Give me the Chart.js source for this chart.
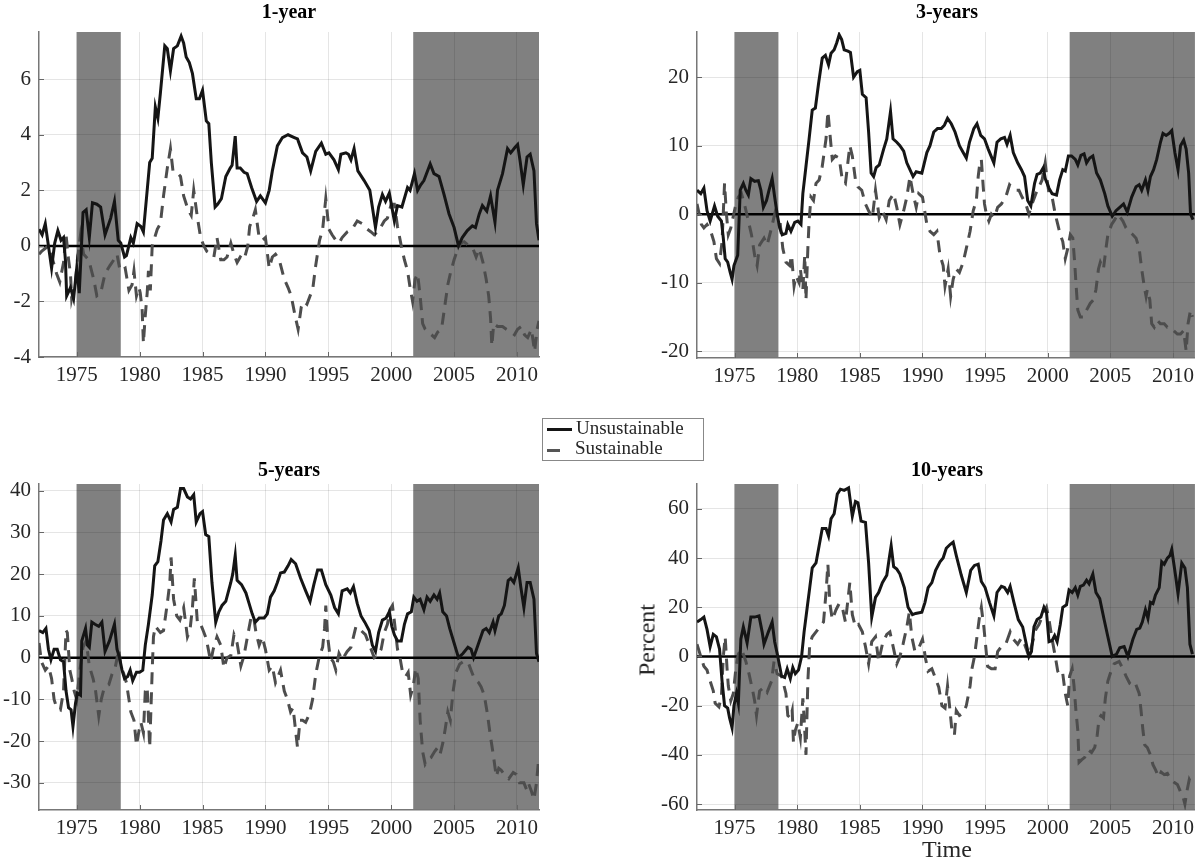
<!DOCTYPE html>
<html>
<head>
<meta charset="utf-8">
<script src="https://cdn.jsdelivr.net/npm/chart.js@4"></script>
<style>
  body { margin: 0; width: 1197px; height: 862px; overflow: hidden; background: #fff; position: relative; font-family: "Liberation Serif", serif; }
  canvas { position: absolute; }
  .title { position: absolute; font-weight: bold; font-size: 20px; color: #000; transform: translateX(-50%); white-space: nowrap; }
  .label { position: absolute; font-size: 24px; color: #262626; white-space: nowrap; }
  #legend { position: absolute; left: 542px; top: 418px; width: 160px; height: 41px; border: 1px solid #888; background: #fff; font-size: 19px; color: #262626; }
  #legend div { position: absolute; }
</style>
</head>
<body>
<canvas id="c1" width="560" height="400" style="left:0;top:0"></canvas>
<canvas id="c2" width="560" height="400" style="left:640px;top:0"></canvas>
<canvas id="c3" width="560" height="407" style="left:0;top:455px"></canvas>
<canvas id="c4" width="560" height="407" style="left:640px;top:455px"></canvas>

<div class="title" style="left:289px;top:0px">1-year</div>
<div class="title" style="left:947px;top:0px">3-years</div>
<div class="title" style="left:289px;top:458px">5-years</div>
<div class="title" style="left:947px;top:458px">10-years</div>

<div class="label" style="left:647px;top:640px;transform:translate(-50%,-50%) rotate(-90deg)">Percent</div>
<div class="label" style="left:947px;top:836px;transform:translateX(-50%)">Time</div>

<div id="legend">
  <div style="left:4px;top:9px;width:25px;height:3px;background:#151515"></div>
  <div style="left:33px;top:-2px;line-height:22px">Unsustainable</div>
  <div style="left:4px;top:30px;width:13px;height:3px;background:#555"></div>
  <div style="left:32px;top:18px;line-height:22px">Sustainable</div>
</div>

<script>
// shaded periods [start, end]
var shaded = [[1975, 1978.5], [2001.75, 2011.75]];
var xMin = 1972, xMax = 2011.75;

// 1-year horizon: [year, percent]
var oneYearUnsust = [
  [1972.0,0.6],[1972.25,0.4],[1972.5,0.8],[1972.75,0.0],[1973.0,-0.8],[1973.25,0.1],[1973.5,0.55],[1973.75,0.2],
  [1973.95,0.3],[1974.1,-0.5],[1974.2,-1.8],[1974.5,-1.5],[1974.75,-1.9],[1975.0,-0.8],[1975.2,-1.7],[1975.5,1.2],
  [1975.75,1.3],[1976.0,0.3],[1976.25,1.55],[1976.6,1.5],[1976.9,1.4],[1977.25,0.4],[1977.7,1.0],[1978.0,1.6],
  [1978.3,0.2],[1978.5,0.1],[1978.8,-0.4],[1978.95,-0.35],[1979.3,0.3],[1979.5,0.1],[1979.8,0.8],[1980.1,0.7],
  [1980.3,0.5],[1980.6,2.0],[1980.8,3.0],[1981.0,3.15],[1981.25,5.0],[1981.45,4.6],[1981.65,5.5],[1982.0,7.2],
  [1982.2,7.1],[1982.45,6.3],[1982.7,7.1],[1983.0,7.2],[1983.3,7.55],[1983.5,7.3],[1983.7,6.8],[1983.95,6.6],
  [1984.2,6.2],[1984.5,5.3],[1984.75,5.3],[1985.0,5.6],[1985.3,4.5],[1985.5,4.4],[1985.7,3.0],[1986.0,1.4],
  [1986.2,1.5],[1986.5,1.7],[1986.85,2.5],[1987.2,2.8],[1987.35,2.9],[1987.6,3.95],[1987.75,2.8],[1988.0,2.8],
  [1988.3,2.65],[1988.55,2.6],[1988.9,2.1],[1989.3,1.6],[1989.6,1.8],[1990.0,1.55],[1990.3,2.0],[1990.55,2.7],
  [1990.95,3.6],[1991.35,3.9],[1991.8,4.0],[1992.3,3.9],[1992.55,3.85],[1992.95,3.35],[1993.3,3.2],[1993.6,2.7],
  [1994.0,3.4],[1994.45,3.7],[1994.8,3.3],[1995.05,3.35],[1995.45,3.1],[1995.8,2.75],[1996.0,3.3],[1996.4,3.35],
  [1996.6,3.3],[1996.8,3.1],[1997.05,3.5],[1997.35,2.7],[1997.85,2.35],[1998.3,2.0],[1998.75,0.66],[1999.0,1.4],
  [1999.3,1.85],[1999.55,1.6],[1999.85,1.9],[2000.25,0.9],[2000.5,1.45],[2000.85,1.4],[2001.3,2.1],[2001.5,2.0],
  [2001.85,2.6],[2002.1,2.0],[2002.35,2.2],[2002.6,2.35],[2003.1,2.95],[2003.4,2.6],[2003.8,2.5],[2004.2,1.85],
  [2004.6,1.15],[2005.0,0.66],[2005.35,0.0],[2005.65,0.3],[2006.05,0.55],[2006.45,0.72],[2006.7,0.66],[2007.0,1.15],
  [2007.25,1.45],[2007.6,1.25],[2007.9,1.8],[2008.25,0.85],[2008.45,2.0],[2008.85,2.6],[2009.25,3.5],[2009.5,3.35],
  [2009.85,3.55],[2010.05,3.65],[2010.25,3.05],[2010.5,2.2],[2010.8,3.2],[2011.05,3.3],[2011.35,2.7],[2011.55,0.8],
  [2011.75,0.2]
];
var oneYearSust = [
  [1972.0,-0.3],[1972.2,-0.2],[1972.75,0.0],[1973.15,-0.6],[1973.4,-1.0],[1973.65,-1.3],[1973.95,-0.6],[1974.15,0.4],
  [1974.35,-0.5],[1974.5,-1.0],[1974.6,-1.9],[1974.9,-1.3],[1975.05,-0.5],[1975.3,0.4],[1975.55,-0.3],[1975.95,-0.5],
  [1976.35,-1.2],[1976.6,-1.8],[1976.9,-1.7],[1977.25,-1.0],[1977.65,-0.7],[1977.95,-0.5],[1978.2,-0.3],[1978.45,-0.9],
  [1978.85,-0.8],[1979.15,-1.6],[1979.4,-1.4],[1979.55,-0.9],[1979.75,-1.8],[1979.95,-1.5],[1980.05,-1.7],[1980.2,-2.3],
  [1980.3,-3.5],[1980.45,-2.5],[1980.6,-1.7],[1980.7,-0.9],[1980.85,-1.6],[1981.0,0.0],[1981.2,0.3],[1981.4,0.6],
  [1981.65,0.8],[1981.9,1.8],[1982.2,2.8],[1982.45,3.5],[1982.65,2.7],[1982.85,2.7],[1983.25,2.5],[1983.5,1.8],
  [1983.85,1.3],[1984.1,1.1],[1984.3,2.0],[1984.45,1.5],[1984.6,1.0],[1984.85,0.3],[1985.1,0.0],[1985.35,-0.2],
  [1985.65,-0.3],[1985.9,-0.4],[1986.15,0.3],[1986.45,-0.5],[1986.7,-0.5],[1986.95,-0.4],[1987.25,0.1],[1987.5,-0.3],
  [1987.75,-0.6],[1988.0,-0.4],[1988.3,-0.5],[1988.6,0.0],[1988.75,0.7],[1989.0,1.0],[1989.2,1.3],[1989.5,0.3],
  [1989.75,0.2],[1990.0,0.3],[1990.3,-0.8],[1990.55,-0.4],[1990.8,-0.3],[1991.1,-0.5],[1991.5,-1.2],[1991.8,-1.5],
  [1992.05,-1.8],[1992.35,-2.5],[1992.6,-3.0],[1992.85,-2.2],[1993.05,-2.0],[1993.3,-2.1],[1993.55,-1.8],[1993.75,-1.6],
  [1994.0,-0.7],[1994.3,0.2],[1994.55,0.6],[1994.8,1.7],[1995.05,0.6],[1995.3,0.4],[1995.6,0.2],[1995.85,0.1],
  [1996.1,0.3],[1996.5,0.5],[1996.9,0.6],[1997.3,0.9],[1997.7,0.8],[1998.1,0.6],[1998.4,0.5],[1998.65,0.4],
  [1998.9,0.5],[1999.2,0.7],[1999.45,0.9],[1999.7,1.0],[2000.0,1.5],[2000.25,1.5],[2000.5,0.7],[2000.8,0.0],
  [2001.05,-0.5],[2001.3,-0.9],[2001.5,-1.5],[2001.7,-2.0],[2001.9,-1.2],[2002.1,-1.0],[2002.3,-1.8],[2002.5,-2.8],
  [2002.7,-3.0],[2002.9,-3.1],[2003.2,-3.2],[2003.45,-3.3],[2003.7,-3.1],[2004.0,-3.0],[2004.25,-2.2],[2004.5,-1.4],
  [2004.75,-0.9],[2005.0,-0.5],[2005.3,-0.1],[2005.55,0.1],[2005.8,0.15],[2006.2,0.0],[2006.5,-0.1],[2006.75,-0.4],
  [2007.0,-0.1],[2007.3,-0.6],[2007.55,-1.2],[2007.75,-1.8],[2007.9,-2.6],[2008.0,-3.6],[2008.15,-2.8],[2008.45,-2.9],
  [2008.85,-2.9],[2009.15,-3.0],[2009.5,-3.1],[2009.8,-3.2],[2010.05,-3.0],[2010.35,-2.9],[2010.6,-3.2],[2010.85,-3.3],
  [2011.15,-3.0],[2011.4,-3.8],[2011.6,-3.0],[2011.75,-2.7]
];

// 3-year horizon
var threeYearUnsust = [
  [1972.0,3.5],[1972.3,3.0],[1972.55,3.8],[1972.8,0.5],[1973.05,-1.0],[1973.4,1.2],[1973.65,-0.3],[1973.95,-1.0],
  [1974.1,-3.5],[1974.25,-6.5],[1974.45,-7.0],[1974.65,-8.5],[1974.8,-9.5],[1974.95,-7.5],[1975.25,-6.0],[1975.45,3.5],
  [1975.7,4.5],[1975.9,3.5],[1976.1,2.8],[1976.3,5.2],[1976.6,4.8],[1976.9,4.9],[1977.1,3.5],[1977.3,1.0],
  [1977.55,2.0],[1977.75,3.5],[1978.0,5.2],[1978.2,2.5],[1978.4,0.0],[1978.6,-2.0],[1978.8,-3.0],[1979.1,-2.8],
  [1979.25,-1.5],[1979.5,-2.5],[1979.8,-1.2],[1980.05,-1.0],[1980.3,-1.5],[1980.45,3.0],[1980.7,7.0],[1980.95,11.0],
  [1981.2,15.2],[1981.45,15.5],[1981.7,19.0],[1982.0,22.8],[1982.25,23.2],[1982.5,21.8],[1982.7,23.5],[1982.95,24.0],
  [1983.15,25.0],[1983.35,26.2],[1983.55,25.5],[1983.75,24.0],[1984.05,23.8],[1984.25,23.6],[1984.5,20.0],[1984.8,20.8],
  [1985.0,21.0],[1985.2,17.5],[1985.5,17.0],[1985.7,12.0],[1985.9,6.0],[1986.1,5.5],[1986.3,6.8],[1986.55,7.2],
  [1986.9,9.5],[1987.15,11.0],[1987.3,13.0],[1987.45,15.0],[1987.65,11.0],[1987.95,10.5],[1988.2,10.0],[1988.5,9.2],
  [1988.75,7.5],[1989.0,6.5],[1989.25,5.5],[1989.5,6.2],[1989.95,6.0],[1990.35,9.0],[1990.6,10.0],[1990.9,12.0],
  [1991.2,12.5],[1991.5,12.5],[1991.75,13.0],[1992.0,14.0],[1992.3,13.2],[1992.6,12.0],[1992.95,10.0],[1993.25,9.0],
  [1993.5,8.2],[1993.75,10.5],[1994.1,12.5],[1994.35,13.2],[1994.65,11.5],[1994.95,11.0],[1995.25,9.5],[1995.7,7.5],
  [1995.95,10.5],[1996.25,11.0],[1996.55,11.2],[1996.75,10.2],[1997.0,11.5],[1997.25,9.0],[1997.6,7.5],[1997.9,6.5],
  [1998.15,5.5],[1998.4,2.0],[1998.65,1.2],[1998.95,4.5],[1999.15,5.8],[1999.4,6.0],[1999.65,6.8],[1999.8,5.2],
  [2000.1,3.8],[2000.35,3.0],[2000.7,2.8],[2000.95,5.0],[2001.2,6.5],[2001.4,6.3],[2001.65,8.5],[2001.9,8.5],
  [2002.2,8.0],[2002.4,7.2],[2002.65,8.6],[2002.9,8.8],[2003.1,7.5],[2003.35,8.2],[2003.6,8.5],[2003.9,6.0],
  [2004.2,5.0],[2004.55,3.0],[2004.8,1.2],[2005.15,-0.3],[2005.45,0.5],[2005.75,1.0],[2006.05,1.5],[2006.35,0.3],
  [2006.7,2.5],[2007.05,4.0],[2007.3,4.3],[2007.5,3.5],[2007.8,5.0],[2008.0,3.5],[2008.2,5.5],[2008.45,6.5],
  [2008.7,8.0],[2009.0,10.5],[2009.2,11.8],[2009.45,11.5],[2009.7,11.8],[2009.9,12.2],[2010.15,9.0],[2010.4,6.5],
  [2010.6,10.0],[2010.85,10.8],[2011.05,9.5],[2011.25,6.0],[2011.4,0.0],[2011.6,-0.8]
];
var threeYearSust = [
  [1972.0,1.5],[1972.35,-1.5],[1972.55,-2.0],[1972.8,-1.5],[1973.1,-2.5],[1973.35,-4.0],[1973.55,-6.5],[1973.8,-7.2],
  [1974.0,-4.0],[1974.2,4.5],[1974.35,0.0],[1974.5,-3.0],[1974.7,-2.0],[1975.05,1.0],[1975.3,2.5],[1975.55,3.0],
  [1975.85,1.0],[1976.1,-1.0],[1976.35,-3.0],[1976.6,-6.0],[1976.8,-7.5],[1977.0,-4.5],[1977.35,-3.5],[1977.6,-4.5],
  [1977.95,-2.0],[1978.2,0.0],[1978.4,-1.5],[1978.65,-1.5],[1978.85,-5.0],[1979.1,-7.0],[1979.4,-7.5],[1979.55,-6.0],
  [1979.75,-10.5],[1979.9,-9.0],[1980.15,-10.0],[1980.25,-8.0],[1980.45,-11.0],[1980.6,-6.0],[1980.7,-12.5],[1980.85,-5.0],
  [1980.95,-1.0],[1981.1,2.5],[1981.3,2.0],[1981.5,4.5],[1981.75,5.0],[1982.0,7.0],[1982.3,11.0],[1982.45,15.0],
  [1982.6,12.0],[1982.8,8.0],[1983.05,8.5],[1983.35,8.2],[1983.6,5.0],[1983.85,4.5],[1984.2,10.0],[1984.4,8.5],
  [1984.65,5.0],[1984.85,4.0],[1985.15,3.5],[1985.45,1.5],[1985.7,0.5],[1986.0,-0.5],[1986.25,3.5],[1986.55,-0.5],
  [1986.8,0.5],[1987.1,-0.8],[1987.35,2.0],[1987.7,3.0],[1987.95,1.0],[1988.2,-1.5],[1988.5,0.5],[1988.75,2.5],
  [1989.0,5.5],[1989.25,3.0],[1989.5,1.0],[1989.7,3.0],[1990.0,2.5],[1990.35,-1.5],[1990.6,-2.5],[1990.9,-3.0],
  [1991.15,-2.5],[1991.4,-6.0],[1991.65,-7.5],[1991.8,-10.5],[1992.05,-8.0],[1992.25,-12.0],[1992.45,-9.5],[1992.7,-8.0],
  [1992.95,-8.5],[1993.25,-7.0],[1993.5,-5.0],[1993.8,-2.5],[1994.05,0.5],[1994.3,2.0],[1994.45,5.5],[1994.55,7.0],
  [1994.7,8.0],[1994.85,4.0],[1994.95,1.5],[1995.1,0.0],[1995.3,-1.0],[1995.5,0.0],[1995.75,-0.5],[1996.0,1.0],
  [1996.3,1.5],[1996.65,2.5],[1996.95,4.3],[1997.2,3.8],[1997.45,3.5],[1997.7,3.5],[1997.95,2.5],[1998.25,1.5],
  [1998.5,0.0],[1998.75,1.5],[1999.05,3.0],[1999.3,4.0],[1999.55,5.0],[1999.8,7.5],[1999.95,5.0],[2000.1,3.0],
  [2000.35,2.5],[2000.6,0.0],[2000.8,-1.5],[2001.0,-3.0],[2001.2,-4.0],[2001.4,-6.5],[2001.6,-5.0],[2001.8,-3.0],
  [2002.0,-3.5],[2002.15,-7.0],[2002.25,-10.0],[2002.4,-14.0],[2002.6,-15.0],[2002.85,-15.0],[2003.1,-14.0],[2003.4,-13.0],
  [2003.65,-12.5],[2003.85,-11.0],[2004.05,-8.0],[2004.2,-7.0],[2004.45,-8.0],[2004.65,-5.0],[2004.8,-3.0],[2005.1,-1.5],
  [2005.35,-0.8],[2005.6,0.0],[2006.0,-1.0],[2006.25,-2.0],[2006.5,-2.5],[2006.8,-3.0],[2007.05,-3.5],[2007.3,-5.0],
  [2007.5,-8.0],[2007.7,-10.5],[2007.85,-12.0],[2007.95,-11.0],[2008.15,-12.5],[2008.3,-16.0],[2008.5,-16.5],[2008.75,-15.5],
  [2009.0,-16.0],[2009.3,-16.0],[2009.55,-16.5],[2009.8,-16.5],[2010.05,-17.0],[2010.35,-17.5],[2010.6,-17.5],[2010.85,-17.0],
  [2011.05,-20.0],[2011.2,-16.0],[2011.4,-14.0],[2011.55,-15.0]
];

// 5-year horizon
var fiveYearUnsust = [
  [1972.0,6.5],[1972.3,6.0],[1972.55,7.0],[1972.75,2.0],[1972.95,-0.5],[1973.2,2.0],[1973.45,2.0],[1973.7,-0.5],
  [1973.95,-1.0],[1974.15,-8.0],[1974.35,-12.0],[1974.55,-12.5],[1974.7,-16.5],[1974.9,-11.0],[1975.05,-8.5],[1975.3,-9.0],
  [1975.4,4.0],[1975.7,7.0],[1975.85,3.0],[1976.0,2.5],[1976.2,8.5],[1976.45,8.0],[1976.75,7.5],[1977.0,8.5],
  [1977.25,1.5],[1977.6,4.0],[1978.0,8.0],[1978.2,2.0],[1978.4,0.0],[1978.6,-3.0],[1978.8,-5.0],[1979.05,-4.5],
  [1979.25,-3.0],[1979.45,-5.5],[1979.75,-3.5],[1980.0,-3.5],[1980.25,-3.0],[1980.45,3.0],[1980.7,8.0],[1981.0,15.0],
  [1981.2,22.0],[1981.45,23.0],[1981.7,28.0],[1981.9,33.0],[1982.2,34.5],[1982.5,32.5],[1982.7,35.5],[1983.0,36.0],
  [1983.25,40.5],[1983.5,40.5],[1983.8,38.5],[1984.05,38.0],[1984.3,39.0],[1984.5,32.5],[1984.8,34.5],[1985.0,35.0],
  [1985.25,29.5],[1985.5,29.0],[1985.75,18.0],[1986.05,8.5],[1986.3,11.0],[1986.55,12.5],[1986.85,13.5],[1987.25,18.0],
  [1987.4,20.0],[1987.6,24.5],[1987.75,18.5],[1988.1,17.5],[1988.45,15.5],[1988.7,13.0],[1988.95,10.5],[1989.2,8.5],
  [1989.5,9.5],[1989.9,9.5],[1990.15,10.5],[1990.4,14.5],[1990.7,16.0],[1990.95,18.0],[1991.2,20.3],[1991.5,20.5],
  [1991.8,22.0],[1992.05,23.5],[1992.4,22.5],[1992.8,19.0],[1993.2,16.0],[1993.55,13.5],[1993.85,17.5],[1994.15,21.0],
  [1994.45,21.0],[1994.8,17.5],[1995.2,15.0],[1995.5,12.0],[1995.8,10.5],[1996.1,16.0],[1996.5,16.5],[1996.75,15.5],
  [1997.0,17.0],[1997.3,13.0],[1997.6,10.0],[1997.9,8.5],[1998.25,6.5],[1998.5,3.0],[1998.75,1.5],[1999.0,6.0],
  [1999.3,9.0],[1999.6,9.5],[1999.85,11.0],[2000.05,7.5],[2000.25,5.5],[2000.5,4.0],[2000.8,4.0],[2001.05,8.0],
  [2001.3,10.5],[2001.6,11.0],[2001.8,14.5],[2002.05,13.5],[2002.3,14.0],[2002.6,11.5],[2002.85,14.5],[2003.1,13.5],
  [2003.4,15.0],[2003.65,14.0],[2003.85,15.5],[2004.1,11.0],[2004.4,10.0],[2004.65,7.0],[2005.0,3.5],[2005.35,0.0],
  [2005.7,1.0],[2006.1,2.5],[2006.35,2.0],[2006.55,0.0],[2006.9,3.0],[2007.3,6.5],[2007.55,7.0],[2007.8,6.0],
  [2008.1,8.5],[2008.25,6.5],[2008.55,10.0],[2008.75,10.5],[2009.0,12.5],[2009.3,18.5],[2009.5,19.0],[2009.75,18.0],
  [2010.1,21.5],[2010.3,17.0],[2010.55,12.0],[2010.8,18.0],[2011.05,18.0],[2011.35,14.0],[2011.55,1.0],[2011.75,-1.0]
];
var fiveYearSust = [
  [1972.0,3.5],[1972.2,-1.0],[1972.5,-3.0],[1972.75,-2.0],[1973.0,-5.0],[1973.2,-10.0],[1973.4,-12.0],[1973.7,-12.5],
  [1973.95,-8.0],[1974.15,6.5],[1974.25,6.0],[1974.45,-3.0],[1974.6,-5.0],[1974.8,-8.0],[1975.0,-10.0],[1975.25,-3.0],
  [1975.5,2.5],[1975.75,4.0],[1976.0,-2.0],[1976.3,-5.0],[1976.5,-8.0],[1976.75,-14.0],[1976.95,-10.0],[1977.2,-7.0],
  [1977.55,-6.5],[1977.8,-4.0],[1978.05,-2.5],[1978.35,2.0],[1978.5,-2.0],[1978.75,-4.0],[1978.95,-6.0],[1979.15,-10.0],
  [1979.3,-13.0],[1979.55,-15.0],[1979.75,-21.0],[1979.95,-17.5],[1980.1,-15.5],[1980.3,-18.0],[1980.45,-8.0],[1980.6,-7.0],
  [1980.8,-21.5],[1981.0,-3.0],[1981.1,5.0],[1981.25,7.5],[1981.65,6.0],[1981.9,6.5],[1982.2,13.0],[1982.4,18.0],
  [1982.5,24.0],[1982.7,14.0],[1982.95,10.0],[1983.2,9.0],[1983.5,12.0],[1983.8,5.0],[1984.0,6.5],[1984.2,12.0],
  [1984.35,19.0],[1984.6,8.0],[1984.85,8.0],[1985.05,6.5],[1985.3,4.5],[1985.65,-1.0],[1985.85,2.0],[1986.15,5.0],
  [1986.45,3.0],[1986.7,-2.5],[1986.95,0.0],[1987.25,0.5],[1987.5,5.5],[1987.75,3.5],[1988.05,-2.0],[1988.3,0.5],
  [1988.6,5.5],[1988.85,9.5],[1989.05,10.0],[1989.25,6.0],[1989.5,3.0],[1989.75,5.0],[1990.0,2.0],[1990.3,-3.0],
  [1990.55,-2.0],[1990.8,-6.0],[1991.2,-3.0],[1991.5,-8.0],[1991.75,-10.0],[1992.0,-13.0],[1992.2,-12.0],[1992.4,-17.5],
  [1992.55,-21.5],[1992.75,-15.0],[1992.95,-15.0],[1993.2,-15.5],[1993.5,-13.5],[1993.75,-10.0],[1994.0,-4.0],[1994.3,0.5],
  [1994.55,2.5],[1994.7,7.0],[1994.8,12.5],[1994.95,5.0],[1995.15,0.0],[1995.4,-1.0],[1995.6,-3.0],[1995.85,1.0],
  [1996.1,-0.5],[1996.5,1.5],[1996.8,2.5],[1997.2,7.5],[1997.6,6.5],[1997.95,5.5],[1998.4,2.0],[1998.65,0.0],
  [1998.9,0.5],[1999.2,2.0],[1999.45,6.0],[1999.7,8.0],[1999.9,11.5],[2000.1,12.5],[2000.3,7.5],[2000.5,2.0],
  [2000.7,0.0],[2000.9,-3.5],[2001.15,-4.5],[2001.35,-3.5],[2001.55,-9.0],[2001.75,-7.0],[2001.95,-2.5],[2002.15,-5.0],
  [2002.3,-15.0],[2002.5,-22.5],[2002.7,-25.5],[2002.9,-24.5],[2003.15,-24.0],[2003.45,-22.5],[2003.7,-21.5],[2003.9,-23.0],
  [2004.1,-20.5],[2004.3,-17.0],[2004.5,-13.0],[2004.7,-15.0],[2004.9,-8.5],[2005.15,-3.5],[2005.45,-1.5],[2005.7,-1.0],
  [2006.1,-1.0],[2006.35,-3.0],[2006.6,-5.0],[2006.95,-6.0],[2007.15,-7.0],[2007.4,-9.0],[2007.65,-13.5],[2007.85,-18.0],
  [2008.0,-21.0],[2008.15,-24.0],[2008.35,-28.5],[2008.55,-26.5],[2008.75,-27.0],[2009.0,-28.0],[2009.35,-29.0],[2009.7,-27.5],
  [2009.95,-28.0],[2010.2,-30.0],[2010.55,-30.0],[2010.75,-31.5],[2010.9,-30.0],[2011.15,-32.0],[2011.35,-34.0],[2011.55,-30.0],
  [2011.7,-25.0]
];

// 10-year horizon
var tenYearUnsust = [
  [1972.0,14.0],[1972.3,15.0],[1972.55,16.0],[1972.8,11.0],[1973.05,4.0],[1973.3,9.0],[1973.55,8.0],[1973.8,3.0],
  [1974.0,-10.0],[1974.2,-20.0],[1974.45,-21.0],[1974.6,-25.0],[1974.8,-29.0],[1974.95,-20.0],[1975.15,-15.0],[1975.3,-19.0],
  [1975.5,7.0],[1975.7,12.0],[1976.0,5.5],[1976.3,16.0],[1976.6,16.0],[1976.95,16.5],[1977.2,10.0],[1977.35,5.0],
  [1977.7,10.0],[1978.0,14.0],[1978.2,6.0],[1978.45,0.0],[1978.75,-8.0],[1979.0,-8.5],[1979.2,-5.0],[1979.45,-9.0],
  [1979.65,-4.5],[1979.85,-7.0],[1980.1,-5.5],[1980.35,0.0],[1980.55,10.0],[1980.8,20.0],[1981.0,28.0],[1981.2,36.0],
  [1981.5,38.0],[1981.75,45.0],[1982.0,52.0],[1982.3,52.0],[1982.5,49.0],[1982.7,56.0],[1982.95,58.0],[1983.2,66.0],
  [1983.45,68.0],[1983.75,67.5],[1984.1,68.5],[1984.4,57.0],[1984.65,63.0],[1984.85,62.5],[1985.1,55.0],[1985.45,54.5],
  [1985.7,38.0],[1985.95,16.0],[1986.25,24.0],[1986.5,26.0],[1986.8,30.0],[1987.15,33.0],[1987.35,40.0],[1987.5,45.0],
  [1987.7,36.5],[1987.95,35.5],[1988.2,33.5],[1988.55,28.0],[1988.85,20.0],[1989.2,17.0],[1989.45,17.5],[1989.95,18.0],
  [1990.2,22.0],[1990.45,28.0],[1990.75,30.0],[1991.05,35.0],[1991.4,38.5],[1991.65,40.0],[1991.9,44.0],[1992.2,45.5],
  [1992.45,46.5],[1992.7,41.0],[1993.1,33.0],[1993.5,26.0],[1993.85,35.0],[1994.15,37.0],[1994.45,37.5],[1994.7,30.5],
  [1995.0,28.0],[1995.35,22.0],[1995.7,16.5],[1995.95,26.0],[1996.3,28.5],[1996.55,28.0],[1996.8,26.0],[1997.0,28.5],
  [1997.3,22.0],[1997.65,15.0],[1998.0,12.0],[1998.25,6.0],[1998.5,0.0],[1998.7,2.0],[1998.9,12.0],[1999.15,15.0],
  [1999.45,16.0],[1999.7,20.0],[1999.9,18.0],[2000.1,6.0],[2000.35,6.5],[2000.55,8.5],[2000.75,6.0],[2001.0,13.0],
  [2001.2,20.0],[2001.5,21.0],[2001.7,27.0],[2001.95,26.0],[2002.2,28.0],[2002.4,25.0],[2002.6,28.5],[2002.85,29.0],
  [2003.1,31.0],[2003.3,29.5],[2003.6,33.5],[2003.85,26.0],[2004.15,23.5],[2004.5,15.0],[2004.8,8.0],[2005.15,0.0],
  [2005.5,1.0],[2005.75,3.5],[2006.1,4.0],[2006.4,0.0],[2006.8,7.0],[2007.1,11.0],[2007.35,11.5],[2007.55,14.0],
  [2007.8,19.0],[2008.0,15.5],[2008.2,22.0],[2008.4,21.5],[2008.6,25.0],[2008.9,28.0],[2009.1,38.5],[2009.3,37.5],
  [2009.55,40.0],[2009.75,41.0],[2009.9,43.5],[2010.2,33.0],[2010.4,25.5],[2010.7,38.0],[2010.95,36.0],[2011.15,28.0],
  [2011.35,5.0],[2011.55,1.0]
];
var tenYearSust = [
  [1972.0,5.0],[1972.3,0.0],[1972.55,-4.0],[1972.8,-5.5],[1973.05,-10.0],[1973.3,-14.0],[1973.45,-19.0],[1973.75,-20.5],
  [1973.95,-16.0],[1974.1,0.0],[1974.25,8.0],[1974.4,-5.0],[1974.5,-12.0],[1974.7,-18.0],[1974.9,-15.0],[1975.1,-5.0],
  [1975.3,1.0],[1975.55,3.0],[1975.9,-2.0],[1976.15,-7.0],[1976.45,-14.0],[1976.6,-18.0],[1976.75,-24.0],[1977.0,-14.0],
  [1977.35,-12.5],[1977.6,-14.5],[1977.95,-10.0],[1978.15,-2.0],[1978.4,-7.0],[1978.75,-8.0],[1978.9,-11.0],[1979.1,-15.0],
  [1979.25,-24.0],[1979.45,-25.0],[1979.6,-22.0],[1979.7,-35.0],[1979.85,-30.0],[1980.05,-27.0],[1980.25,-33.0],[1980.45,-17.0],
  [1980.55,-25.0],[1980.7,-40.0],[1980.85,-10.0],[1981.0,5.0],[1981.2,8.0],[1981.5,10.0],[1981.8,12.0],[1982.1,14.0],
  [1982.3,26.0],[1982.45,37.5],[1982.6,22.0],[1982.8,15.0],[1983.1,19.0],[1983.35,21.5],[1983.6,20.0],[1983.85,14.0],
  [1984.2,30.0],[1984.4,17.0],[1984.65,12.0],[1984.9,13.0],[1985.2,10.0],[1985.45,4.0],[1985.7,-3.0],[1985.95,6.0],
  [1986.25,8.0],[1986.5,-2.0],[1986.8,5.0],[1987.15,9.0],[1987.4,10.0],[1987.7,3.0],[1987.95,-3.0],[1988.2,0.0],
  [1988.45,5.0],[1988.75,12.0],[1988.95,18.0],[1989.15,8.0],[1989.4,2.0],[1989.75,4.0],[1990.0,7.0],[1990.25,-1.0],
  [1990.45,-6.0],[1990.75,-5.0],[1991.05,-9.0],[1991.3,-12.5],[1991.55,-20.0],[1991.8,-21.0],[1992.0,-12.0],[1992.2,-22.0],
  [1992.35,-30.0],[1992.55,-32.0],[1992.7,-22.0],[1992.95,-24.0],[1993.25,-23.0],[1993.5,-20.0],[1993.8,-12.0],[1993.95,-5.0],
  [1994.15,0.0],[1994.4,10.0],[1994.55,16.0],[1994.7,20.0],[1994.9,12.0],[1995.05,4.0],[1995.2,-4.0],[1995.5,-5.0],
  [1995.8,-5.0],[1996.0,2.0],[1996.3,4.0],[1996.65,5.0],[1997.0,10.0],[1997.25,7.0],[1997.6,5.0],[1997.9,7.5],
  [1998.15,5.0],[1998.5,0.0],[1998.75,5.0],[1999.05,11.0],[1999.3,13.0],[1999.7,18.0],[1999.9,20.0],[2000.1,15.0],
  [2000.35,7.0],[2000.6,0.0],[2000.8,-6.0],[2001.0,-8.0],[2001.2,-7.0],[2001.4,-15.0],[2001.6,-20.0],[2001.75,-8.0],
  [2001.95,-5.0],[2002.1,-12.0],[2002.25,-22.0],[2002.4,-30.0],[2002.5,-43.0],[2002.7,-42.0],[2002.95,-41.0],[2003.25,-38.0],
  [2003.5,-39.0],[2003.75,-37.0],[2003.95,-32.0],[2004.1,-25.0],[2004.25,-24.0],[2004.45,-25.0],[2004.6,-17.0],[2004.8,-10.0],
  [2005.05,-6.0],[2005.3,-3.0],[2005.7,-2.0],[2006.0,-5.0],[2006.25,-8.0],[2006.55,-11.0],[2006.8,-12.0],[2007.0,-11.0],
  [2007.3,-15.0],[2007.45,-22.0],[2007.6,-30.0],[2007.75,-36.0],[2007.95,-37.0],[2008.2,-40.0],[2008.4,-44.0],[2008.6,-46.0],
  [2008.85,-49.0],[2009.05,-47.0],[2009.3,-48.0],[2009.55,-47.5],[2009.8,-50.0],[2010.05,-51.0],[2010.35,-52.0],[2010.6,-55.0],
  [2010.75,-56.0],[2010.95,-60.0],[2011.1,-55.0],[2011.3,-50.0],[2011.5,-52.0]
];

var tickFont = { family: "'Liberation Serif', serif", size: 21 };

// gray bands behind grid
var shadePlugin = {
  id: "shade",
  beforeDraw: function (chart) {
    var ctx = chart.ctx, area = chart.chartArea, x = chart.scales.x;
    ctx.save();
    ctx.fillStyle = "#808080";
    shaded.forEach(function (s) {
      var a = x.getPixelForValue(s[0]), b = x.getPixelForValue(s[1]);
      ctx.fillRect(a, area.top, b - a, area.bottom - area.top);
    });
    ctx.restore();
  }
};

// small inward tick marks like matlab
var tickPlugin = {
  id: "inticks",
  afterDraw: function (chart) {
    var ctx = chart.ctx, area = chart.chartArea;
    var x = chart.scales.x, y = chart.scales.y;
    ctx.save();
    ctx.strokeStyle = "#666";
    ctx.lineWidth = 1;
    ctx.beginPath();
    x.ticks.forEach(function (t) {
      var px = Math.round(x.getPixelForValue(t.value)) + 0.5;
      ctx.moveTo(px, area.bottom);
      ctx.lineTo(px, area.bottom - 5);
    });
    y.ticks.forEach(function (t) {
      var py = Math.round(y.getPixelForValue(t.value)) + 0.5;
      ctx.moveTo(area.left, py);
      ctx.lineTo(area.left + 5, py);
    });
    ctx.stroke();
    ctx.restore();
  }
};

function toPoints(arr) {
  return arr.map(function (p) { return { x: p[0], y: p[1] }; });
}

function makePanel(id, unsust, sust, yMin, yMax, yStep, yWidth, padTop, xHeight, padRight) {
  return new Chart(document.getElementById(id), {
    type: "line",
    data: {
      datasets: [
        { label: "Unsustainable", data: toPoints(unsust), borderColor: "#151515", borderWidth: 3, pointRadius: 0, tension: 0 },
        { label: "Sustainable", data: toPoints(sust), borderColor: "#4d4d4d", borderWidth: 3, borderDash: [12, 8], pointRadius: 0, tension: 0 },
        { label: "zero", data: [{ x: xMin, y: 0 }, { x: xMax, y: 0 }], borderColor: "#000", borderWidth: 2.5, pointRadius: 0 }
      ]
    },
    options: {
      responsive: false,
      animation: false,
      layout: { padding: { left: 0, top: padTop, right: padRight, bottom: 0 } },
      plugins: { legend: { display: false }, tooltip: { enabled: false } },
      scales: {
        x: {
          type: "linear",
          min: xMin,
          max: xMax,
          grid: { color: "rgba(0,0,0,0.1)", drawTicks: false },
          border: { color: "#777", width: 1.5 },
          ticks: { stepSize: 5, includeBounds: false, font: tickFont, color: "#262626", padding: 6, maxRotation: 0,
                   callback: function (v) { return String(v); } },
          afterFit: function (s) { s.height = xHeight; }
        },
        y: {
          min: yMin,
          max: yMax,
          grid: { color: "rgba(0,0,0,0.1)", drawTicks: false },
          border: { color: "#777", width: 1.5 },
          ticks: { stepSize: yStep, includeBounds: false, font: tickFont, color: "#262626", padding: 8,
                   callback: function (v) { return String(v); } },
          afterFit: function (s) { s.width = yWidth; }
        }
      }
    },
    plugins: [shadePlugin, tickPlugin]
  });
}

makePanel("c1", oneYearUnsust, oneYearSust, -4, 7.7, 2, 39, 32, 43, 21);
makePanel("c2", threeYearUnsust, threeYearSust, -21, 26.6, 10, 57, 32, 42, 0);
makePanel("c3", fiveYearUnsust, fiveYearSust, -36.5, 41.6, 10, 39, 29, 52, 21);
makePanel("c4", tenYearUnsust, tenYearSust, -62.4, 70.1, 20, 57, 29, 52, 0);
</script>
</body>
</html>
